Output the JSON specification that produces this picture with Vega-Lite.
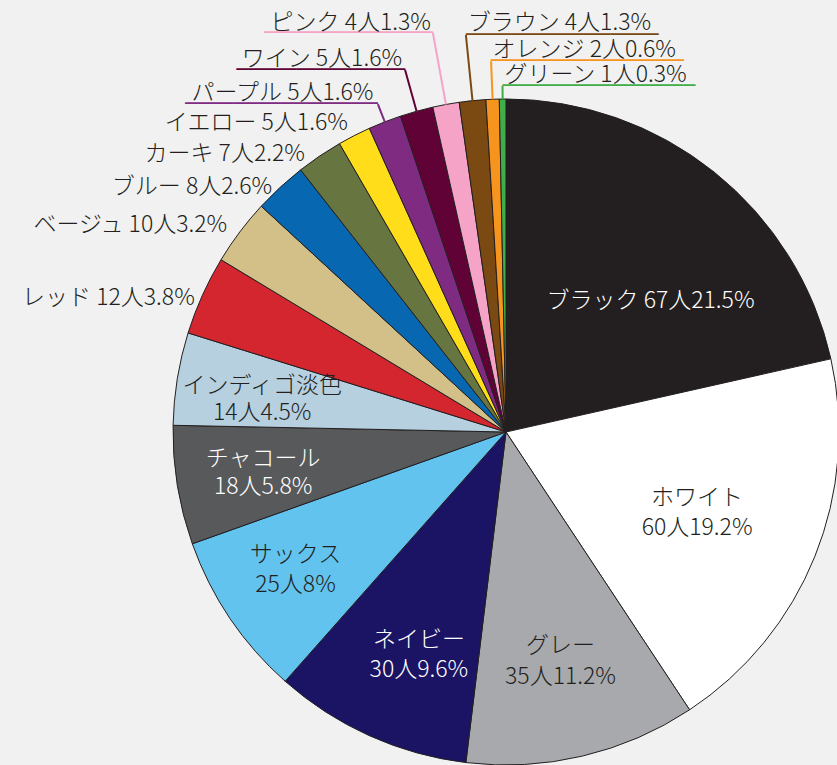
{
  "$schema": "https://vega.github.io/schema/vega-lite/v6.json",
  "width": 662,
  "height": 666,
  "autosize": "none",
  "padding": {"left": 175, "top": 99, "right": 0, "bottom": 0},
  "background": "#f1f1f1",
  "config": {"view": {"stroke": null}, "text": {"font": "'Noto Sans CJK JP Light', 'Noto Sans CJK JP'", "fontWeight": 300, "fontSize": 23, "fill": "#231f20"}},
  "data": {"values": [
    {"name": "ブラック", "n": 67, "pct": 21.5},
    {"name": "ホワイト", "n": 60, "pct": 19.2},
    {"name": "グレー", "n": 35, "pct": 11.2},
    {"name": "ネイビー", "n": 30, "pct": 9.6},
    {"name": "サックス", "n": 25, "pct": 8},
    {"name": "チャコール", "n": 18, "pct": 5.8},
    {"name": "インディゴ淡色", "n": 14, "pct": 4.5},
    {"name": "レッド", "n": 12, "pct": 3.8},
    {"name": "ベージュ", "n": 10, "pct": 3.2},
    {"name": "ブルー", "n": 8, "pct": 2.6},
    {"name": "カーキ", "n": 7, "pct": 2.2},
    {"name": "イエロー", "n": 5, "pct": 1.6},
    {"name": "パープル", "n": 5, "pct": 1.6},
    {"name": "ワイン", "n": 5, "pct": 1.6},
    {"name": "ピンク", "n": 4, "pct": 1.3},
    {"name": "ブラウン", "n": 4, "pct": 1.3},
    {"name": "オレンジ", "n": 2, "pct": 0.6},
    {"name": "グリーン", "n": 1, "pct": 0.3}
  ]},
  "transform": [
    {"joinaggregate": [{"op": "sum", "field": "n", "as": "total"}]},
    {"window": [{"op": "sum", "field": "n", "as": "cum"}], "frame": [null, 0]},
    {"calculate": "(datum.cum - datum.n) / datum.total", "as": "s0"},
    {"calculate": "datum.cum / datum.total", "as": "s1"},
    {"calculate": "(datum.s0 + datum.s1) / 2", "as": "mid"},
    {"calculate": "datum.name + ' ' + datum.n + '人' + datum.pct + '%'", "as": "label"},
    {"calculate": "datum.name + '\\n' + datum.n + '人' + datum.pct + '%'", "as": "label2"}
  ],
  "layer": [
    {
      "mark": {"type": "arc", "radius": 333, "stroke": "#231f20", "strokeWidth": 1},
      "encoding": {
        "theta": {"field": "s0", "type": "quantitative", "stack": null, "scale": {"domain": [0, 1], "range": [0, 6.283185307179586]}},
        "theta2": {"field": "s1"},
        "color": {"field": "name", "type": "nominal", "legend": null, "scale": {
          "domain": ["ブラック","ホワイト","グレー","ネイビー","サックス","チャコール","インディゴ淡色","レッド","ベージュ","ブルー","カーキ","イエロー","パープル","ワイン","ピンク","ブラウン","オレンジ","グリーン"],
          "range": ["#231f20","#ffffff","#a7a9ac","#1b1464","#62c3ee","#58595b","#b7d0e0","#d4262e","#d3bf88","#0767b1","#677640","#ffdd1a","#7f2b81","#600236","#f5a3c7","#7b4a12","#f7941d","#3fae49"]}}
      }
    },
    {"transform": [{"filter": {"field": "name", "equal": "ピンク"}}], "mark": {"type": "arc", "filled": false, "padAngle": 1, "radius": 406, "radius2": 333, "stroke": "#f5a3c7", "strokeWidth": 2}, "encoding": {"theta": {"field": "s0", "type": "quantitative", "stack": null}, "theta2": {"field": "s1"}}},
    {"transform": [{"filter": {"field": "name", "equal": "ワイン"}}], "mark": {"type": "arc", "filled": false, "padAngle": 1, "radius": 376, "radius2": 333, "stroke": "#600236", "strokeWidth": 2}, "encoding": {"theta": {"field": "s0", "type": "quantitative", "stack": null}, "theta2": {"field": "s1"}}},
    {"transform": [{"filter": {"field": "name", "equal": "パープル"}}], "mark": {"type": "arc", "filled": false, "padAngle": 1, "radius": 352, "radius2": 333, "stroke": "#7f2b81", "strokeWidth": 2}, "encoding": {"theta": {"field": "s0", "type": "quantitative", "stack": null}, "theta2": {"field": "s1"}}},
    {"transform": [{"filter": {"field": "name", "equal": "ブラウン"}}], "mark": {"type": "arc", "filled": false, "padAngle": 1, "radius": 399, "radius2": 333, "stroke": "#7b4a12", "strokeWidth": 2}, "encoding": {"theta": {"field": "s0", "type": "quantitative", "stack": null}, "theta2": {"field": "s1"}}},
    {"transform": [{"filter": {"field": "name", "equal": "オレンジ"}}], "mark": {"type": "arc", "filled": false, "padAngle": 1, "radius": 371, "radius2": 333, "stroke": "#f7941d", "strokeWidth": 2}, "encoding": {"theta": {"field": "s0", "type": "quantitative", "stack": null}, "theta2": {"field": "s1"}}},
    {"transform": [{"filter": {"field": "name", "equal": "グリーン"}}], "mark": {"type": "arc", "filled": false, "padAngle": 1, "radius": 346, "radius2": 333, "stroke": "#3fae49", "strokeWidth": 2}, "encoding": {"theta": {"field": "s0", "type": "quantitative", "stack": null}, "theta2": {"field": "s1"}}},

    {"transform": [{"filter": {"field": "name", "equal": "ピンク"}}], "mark": {"type": "text", "font": "DejaVu Sans Mono", "fontWeight": "normal", "fontSize": 20, "align": "right", "baseline": "middle", "radius": 406, "fill": "#f5a3c7"}, "encoding": {"theta": {"field": "mid", "type": "quantitative"}, "text": {"value": "──────────────"}}},
    {"transform": [{"filter": {"field": "name", "equal": "ワイン"}}], "mark": {"type": "text", "font": "DejaVu Sans Mono", "fontWeight": "normal", "fontSize": 20, "align": "right", "baseline": "middle", "radius": 376, "fill": "#600236"}, "encoding": {"theta": {"field": "mid", "type": "quantitative"}, "text": {"value": "──────────────"}}},
    {"transform": [{"filter": {"field": "name", "equal": "パープル"}}], "mark": {"type": "text", "font": "DejaVu Sans Mono", "fontWeight": "normal", "fontSize": 20, "align": "right", "baseline": "middle", "radius": 352, "fill": "#7f2b81"}, "encoding": {"theta": {"field": "mid", "type": "quantitative"}, "text": {"value": "────────────────"}}},
    {"transform": [{"filter": {"field": "name", "equal": "ブラウン"}}], "mark": {"type": "text", "font": "DejaVu Sans Mono", "fontWeight": "normal", "fontSize": 20, "align": "left", "baseline": "middle", "radius": 399, "fill": "#7b4a12"}, "encoding": {"theta": {"field": "mid", "type": "quantitative"}, "text": {"value": "────────────────"}}},
    {"transform": [{"filter": {"field": "name", "equal": "オレンジ"}}], "mark": {"type": "text", "font": "DejaVu Sans Mono", "fontWeight": "normal", "fontSize": 20, "align": "left", "baseline": "middle", "radius": 371, "fill": "#f7941d"}, "encoding": {"theta": {"field": "mid", "type": "quantitative"}, "text": {"value": "────────────────"}}},
    {"transform": [{"filter": {"field": "name", "equal": "グリーン"}}], "mark": {"type": "text", "font": "DejaVu Sans Mono", "fontWeight": "normal", "fontSize": 20, "align": "left", "baseline": "middle", "radius": 346, "fill": "#3fae49"}, "encoding": {"theta": {"field": "mid", "type": "quantitative"}, "text": {"value": "────────────────"}}},

    {"transform": [{"filter": {"field": "name", "equal": "ピンク"}}], "mark": {"type": "text", "align": "right", "baseline": "middle", "radius": 416}, "encoding": {"theta": {"field": "mid", "type": "quantitative"}, "text": {"field": "label"}}},
    {"transform": [{"filter": {"field": "name", "equal": "ワイン"}}], "mark": {"type": "text", "align": "right", "baseline": "middle", "radius": 387}, "encoding": {"theta": {"field": "mid", "type": "quantitative"}, "text": {"field": "label"}}},
    {"transform": [{"filter": {"field": "name", "equal": "パープル"}}], "mark": {"type": "text", "align": "right", "baseline": "middle", "radius": 364}, "encoding": {"theta": {"field": "mid", "type": "quantitative"}, "text": {"field": "label"}}},
    {"transform": [{"filter": {"field": "name", "equal": "イエロー"}}], "mark": {"type": "text", "align": "right", "baseline": "middle", "radius": 347}, "encoding": {"theta": {"field": "mid", "type": "quantitative"}, "text": {"field": "label"}}},
    {"transform": [{"filter": {"field": "name", "equal": "カーキ"}}], "mark": {"type": "text", "align": "right", "baseline": "middle", "radius": 336, "dx": -13}, "encoding": {"theta": {"field": "mid", "type": "quantitative"}, "text": {"field": "label"}}},
    {"transform": [{"filter": {"field": "name", "equal": "ブルー"}}], "mark": {"type": "text", "align": "right", "baseline": "middle", "radius": 333, "dx": -8}, "encoding": {"theta": {"field": "mid", "type": "quantitative"}, "text": {"field": "label"}}},
    {"transform": [{"filter": {"field": "name", "equal": "ベージュ"}}], "mark": {"type": "text", "align": "right", "baseline": "middle", "radius": 345, "dx": -3}, "encoding": {"theta": {"field": "mid", "type": "quantitative"}, "text": {"field": "label"}}},
    {"transform": [{"filter": {"field": "name", "equal": "レッド"}}], "mark": {"type": "text", "align": "right", "baseline": "middle", "radius": 327, "dx": -13}, "encoding": {"theta": {"field": "mid", "type": "quantitative"}, "text": {"field": "label"}}},
    {"transform": [{"filter": {"field": "name", "equal": "ブラウン"}}], "mark": {"type": "text", "align": "left", "baseline": "middle", "radius": 411, "dx": 3}, "encoding": {"theta": {"field": "mid", "type": "quantitative"}, "text": {"field": "label"}}},
    {"transform": [{"filter": {"field": "name", "equal": "オレンジ"}}], "mark": {"type": "text", "align": "left", "baseline": "middle", "radius": 382, "dx": 2}, "encoding": {"theta": {"field": "mid", "type": "quantitative"}, "text": {"field": "label"}}},
    {"transform": [{"filter": {"field": "name", "equal": "グリーン"}}], "mark": {"type": "text", "align": "left", "baseline": "middle", "radius": 357, "dx": 2}, "encoding": {"theta": {"field": "mid", "type": "quantitative"}, "text": {"field": "label"}}},

    {"transform": [{"filter": {"field": "name", "equal": "ブラック"}}], "mark": {"type": "text", "align": "center", "baseline": "middle", "radius": 169, "dx": 39, "dy": 1, "fill": "#ffffff"}, "encoding": {"theta": {"field": "mid", "type": "quantitative"}, "text": {"field": "label"}}},
    {"transform": [{"filter": {"field": "name", "equal": "ホワイト"}}], "mark": {"type": "text", "align": "center", "baseline": "middle", "lineBreak": "\n", "lineHeight": 30, "radius": 206, "dy": -11}, "encoding": {"theta": {"field": "mid", "type": "quantitative"}, "text": {"field": "label2"}}},
    {"transform": [{"filter": {"field": "name", "equal": "グレー"}}], "mark": {"type": "text", "align": "center", "baseline": "middle", "lineBreak": "\n", "lineHeight": 31, "radius": 233, "dx": 1, "dy": -13}, "encoding": {"theta": {"field": "mid", "type": "quantitative"}, "text": {"field": "label2"}}},
    {"transform": [{"filter": {"field": "name", "equal": "ネイビー"}}], "mark": {"type": "text", "align": "center", "baseline": "middle", "lineBreak": "\n", "lineHeight": 30, "radius": 239, "dx": 11, "dy": -10, "fill": "#ffffff"}, "encoding": {"theta": {"field": "mid", "type": "quantitative"}, "text": {"field": "label2"}}},
    {"transform": [{"filter": {"field": "name", "equal": "サックス"}}], "mark": {"type": "text", "align": "center", "baseline": "middle", "lineBreak": "\n", "lineHeight": 30, "radius": 254, "dy": -19}, "encoding": {"theta": {"field": "mid", "type": "quantitative"}, "text": {"field": "label2"}}},
    {"transform": [{"filter": {"field": "name", "equal": "チャコール"}}], "mark": {"type": "text", "align": "center", "baseline": "middle", "lineBreak": "\n", "lineHeight": 28, "radius": 246, "dy": -12, "fill": "#ffffff"}, "encoding": {"theta": {"field": "mid", "type": "quantitative"}, "text": {"field": "label2"}}},
    {"transform": [{"filter": {"field": "name", "equal": "インディゴ淡色"}}], "mark": {"type": "text", "align": "center", "baseline": "middle", "lineBreak": "\n", "lineHeight": 27, "radius": 247, "dy": -6}, "encoding": {"theta": {"field": "mid", "type": "quantitative"}, "text": {"field": "label2"}}}
  ]
}
